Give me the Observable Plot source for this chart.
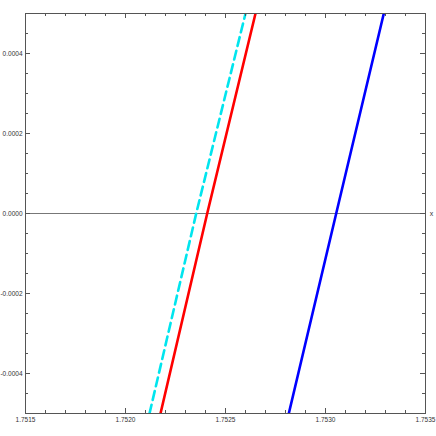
<!DOCTYPE html>
<html><head><meta charset="utf-8">
<script src="https://cdn.jsdelivr.net/npm/d3@7"></script>
<script src="https://cdn.jsdelivr.net/npm/@observablehq/plot@0.6"></script>
<style>body{margin:0;background:#fff}</style>
</head><body><div id="chart"></div>
<script>
const yLevels = [-0.0005, 0, 0.0005];
const cyanX = [1.75212, 1.7523535, 1.7526];
const redX = [1.752175, 1.7524085, 1.75265];
const blueX = [1.7528165, 1.7530535, 1.7532915];
const xMajor = [1.7515, 1.7520, 1.7525, 1.7530, 1.7535];
const xLabels = ["1.7515", "1.7520", "1.7525", "1.7530", "1.7535"];
const yMajor = [-0.0004, -0.0002, 0, 0.0002, 0.0004];
const yLabels = ["-0.0004", "-0.0002", "0.0000", "0.0002", "0.0004"];
const xMinor = d3.range(0, 21).map(i => +(1.7515 + i * 0.0001).toFixed(4)).filter(v => !xMajor.includes(v));
const yMinor = d3.range(-10, 11).map(i => +(i * 0.00005).toFixed(5)).filter(v => !yMajor.some(m => Math.abs(m - v) < 1e-9) && Math.abs(v) < 0.0005 - 1e-9);

const W = 436, H = 436, mL = 25, mR = 11, mT = 13, mB = 23;
const ph = H - mT - mB, pw = W - mL - mR;
const mk = (xs) => xs.map((x, i) => ({x, y: yLevels[i]}));
const tickColor = "#555";
const fontF = "Liberation Sans, Arial, sans-serif";

const chart = Plot.plot({
  width: W, height: H,
  marginLeft: mL, marginRight: mR, marginTop: mT, marginBottom: mB,
  x: {domain: [1.7515, 1.7535], axis: null},
  y: {domain: [-0.0005, 0.0005], axis: null},
  style: {fontFamily: fontF, background: "#fff"},
  marks: [
    Plot.ruleY([0], {stroke: "#777", strokeWidth: 1}),
    Plot.line(mk(cyanX), {x: "x", y: "y", stroke: "#00e5ee", strokeWidth: 2.6, strokeDasharray: "9,5", clip: true}),
    Plot.line(mk(redX), {x: "x", y: "y", stroke: "#f00", strokeWidth: 2.6, clip: true}),
    Plot.line(mk(blueX), {x: "x", y: "y", stroke: "#00f", strokeWidth: 2.6, clip: true}),
    // bottom/top ticks
    Plot.ruleX(xMajor, {x: d => d, insetTop: ph - 5, stroke: tickColor}),
    Plot.ruleX(xMinor, {x: d => d, insetTop: ph - 3, stroke: tickColor}),
    Plot.ruleX(xMajor, {x: d => d, insetBottom: ph - 5, stroke: tickColor}),
    Plot.ruleX(xMinor, {x: d => d, insetBottom: ph - 3, stroke: tickColor}),
    // left/right ticks
    Plot.ruleY(yMajor, {y: d => d, insetRight: pw - 5, stroke: tickColor}),
    Plot.ruleY(yMinor, {y: d => d, insetRight: pw - 3, stroke: tickColor}),
    Plot.ruleY(yMajor, {y: d => d, insetLeft: pw - 5, stroke: tickColor}),
    Plot.ruleY(yMinor, {y: d => d, insetLeft: pw - 3, stroke: tickColor}),
    Plot.frame({stroke: "#555", strokeWidth: 1}),
    Plot.text(xMajor, {x: d => d, frameAnchor: "bottom", dy: 8, text: (d, i) => xLabels[i], fontSize: 6.5, fill: "#333"}),
    Plot.text(yMajor, {y: d => d, frameAnchor: "left", dx: -3, textAnchor: "end", text: (d, i) => yLabels[i], fontSize: 6.5, fill: "#333"}),
    Plot.text(["x"], {y: 0, frameAnchor: "right", dx: 6, textAnchor: "middle", text: d => d, fontSize: 7, fill: "#333"})
  ]
});
document.getElementById("chart").appendChild(chart);
</script>
</body></html>
